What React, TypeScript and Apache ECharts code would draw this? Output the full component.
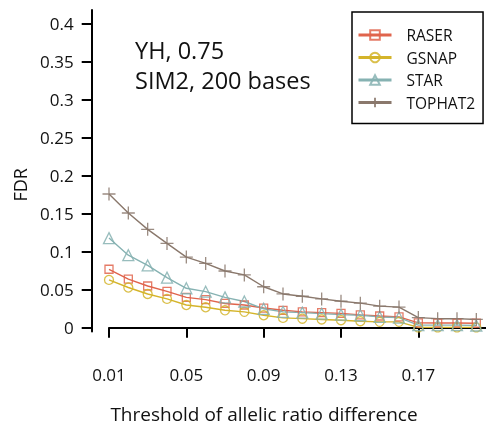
import React, { useEffect, useRef } from "react";
import * as echarts from "echarts";

const thresholds = [0.01, 0.02, 0.03, 0.04, 0.05, 0.06, 0.07, 0.08, 0.09, 0.1, 0.11, 0.12, 0.13, 0.14, 0.15, 0.16, 0.17, 0.18, 0.19, 0.2];
const raser = [0.077, 0.064, 0.055, 0.048, 0.04, 0.037, 0.032, 0.03, 0.026, 0.023, 0.021, 0.02, 0.019, 0.017, 0.0155, 0.0143, 0.0065, 0.0063, 0.0063, 0.006];
const gsnap = [0.063, 0.053, 0.0445, 0.038, 0.03, 0.027, 0.023, 0.021, 0.0165, 0.013, 0.012, 0.011, 0.01, 0.0087, 0.0078, 0.0078, 0.0005, 0.0005, 0.0005, 0.0005];
const star = [0.118, 0.0955, 0.082, 0.066, 0.052, 0.0475, 0.04, 0.0346, 0.025, 0.021, 0.02, 0.0186, 0.0173, 0.0165, 0.0143, 0.0135, 0.0035, 0.0035, 0.0035, 0.003];
const tophat2 = [0.176, 0.151, 0.1295, 0.111, 0.093, 0.0847, 0.0747, 0.0696, 0.054, 0.0445, 0.0415, 0.038, 0.035, 0.0324, 0.0285, 0.0272, 0.0134, 0.012, 0.012, 0.011];
const xTicks = [0.01, 0.05, 0.09, 0.13, 0.17];
const yTicks = [0, 0.05, 0.1, 0.15, 0.2, 0.25, 0.3, 0.35, 0.4];
const seriesNames = ["RASER", "GSNAP", "STAR", "TOPHAT2"];
const annotation = ["YH, 0.75", "SIM2, 200 bases"];

const FONT = "'Open Sans', 'Noto Sans', sans-serif";

export default function App() {
  const ref = useRef<HTMLDivElement>(null);
  useEffect(() => {
    if (!ref.current) return;
    const chart = echarts.init(ref.current, null, { renderer: "svg" });
    const mk = (name: string, vals: number[], color: string, symbol: string, size: number) => ({
      name,
      type: "line",
      data: thresholds.map((t, i) => [t, vals[i]]),
      color,
      symbol,
      symbolSize: size,
      showAllSymbol: true,
      lineStyle: { color, width: 1.4 },
      itemStyle: { color: "rgba(255,255,255,0)", borderColor: color, borderWidth: 1.3, opacity: 0.85 },
      emphasis: { disabled: true },
    });
    chart.setOption({
      animation: false,
      textStyle: { fontFamily: FONT },
      grid: { left: 109, right: 0, top: 10, bottom: 91.4, containLabel: false },
      xAxis: {
        type: "value",
        min: 0.01,
        max: 0.205,
        offset: 8.4,
        axisLine: { show: true, lineStyle: { color: "#000", width: 2 } },
        axisTick: { show: true, length: 10, lineStyle: { color: "#000", width: 2 }, customValues: xTicks },
        axisLabel: {
          customValues: xTicks,
          margin: 26,
          fontSize: 17,
          color: "#111",
          fontFamily: FONT,
          formatter: (v: number) => v.toFixed(2),
        },
        splitLine: { show: false },
        name: "Threshold of allelic ratio difference",
        nameLocation: "middle",
        nameGap: 64,
        nameTextStyle: { fontSize: 19, color: "#111", fontFamily: FONT, padding: [0, 67, 0, 0] },
      },
      yAxis: {
        type: "value",
        min: -0.005,
        max: 0.418,
        offset: 17.3,
        axisLine: { show: true, lineStyle: { color: "#000", width: 2 } },
        axisTick: { show: true, length: 10, lineStyle: { color: "#000", width: 2 }, customValues: yTicks },
        axisLabel: {
          customValues: yTicks,
          margin: 18,
          fontSize: 17,
          color: "#111",
          fontFamily: FONT,
          formatter: (v: number) => String(Math.round(v * 100) / 100),
        },
        splitLine: { show: false },
        name: "FDR",
        nameLocation: "middle",
        nameGap: 61,
        nameTextStyle: { fontSize: 18, color: "#111", fontFamily: FONT, padding: [0, 28, 0, 0] },
      },
      legend: {
        data: seriesNames,
        orient: "vertical",
        left: 352,
        top: 12,
        itemWidth: 33,
        itemHeight: 12,
        itemGap: 6.5,
        padding: [15, 8, 13, 5],
        borderColor: "#000",
        borderWidth: 1.5,
        backgroundColor: "#fff",
        lineStyle: { width: 3 },
        textStyle: { fontSize: 15.5, color: "#111", fontFamily: FONT, padding: [0, 0, 0, 10] },
      },
      graphic: [
        { type: "text", left: 135, top: 38, style: { text: annotation[0], fontSize: 23.5, fontFamily: FONT, fill: "#111" } },
        { type: "text", left: 135, top: 68, style: { text: annotation[1], fontSize: 23.5, fontFamily: FONT, fill: "#111" } },
      ],
      series: [
        mk(seriesNames[0], raser, "#e0644c", "rect", 8),
        mk(seriesNames[1], gsnap, "#d4b42a", "circle", 9),
        mk(seriesNames[2], star, "#86b2b2", "triangle", 11),
        mk(seriesNames[3], tophat2, "#8a786c", "path://M0,6H12M6,0V12", 13),
      ],
    });
    return () => chart.dispose();
  }, []);
  return <div ref={ref} style={{ position: "fixed", left: 0, top: 0, width: 486, height: 428 }} />;
}
